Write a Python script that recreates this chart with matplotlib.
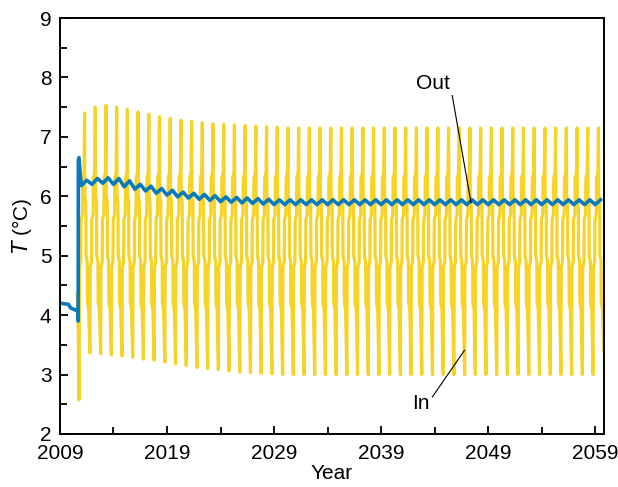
import matplotlib.pyplot as plt
import numpy as np

plt.rcParams['font.family'] = ['Liberation Sans', 'DejaVu Sans']

# years with an annual peak of the inflow temperature
years = list(range(2011, 2060))

# In: annual maxima / minima
in_peak = [7.40, 7.50, 7.53, 7.50, 7.46, 7.42, 7.38, 7.34, 7.31, 7.28,
           7.26, 7.24, 7.22, 7.21, 7.20, 7.19, 7.18, 7.17, 7.16, 7.15,
           7.15, 7.15, 7.15, 7.15, 7.15, 7.15, 7.15, 7.15, 7.15, 7.15,
           7.15, 7.15, 7.15, 7.15, 7.15, 7.15, 7.15, 7.15, 7.15, 7.15,
           7.15, 7.15, 7.15, 7.15, 7.15, 7.15, 7.15, 7.15, 7.15]
in_trough = [3.36, 3.35, 3.33, 3.31, 3.29, 3.26, 3.24, 3.21, 3.18, 3.15,
             3.12, 3.10, 3.08, 3.06, 3.04, 3.03, 3.02, 3.01, 3.00, 3.00,
             3.00, 3.00, 3.00, 3.00, 3.00, 3.00, 3.00, 3.00, 3.00, 3.00,
             3.00, 3.00, 3.00, 3.00, 3.00, 3.00, 3.00, 3.00, 3.00, 3.00,
             3.00, 3.00, 3.00, 3.00, 3.00, 3.00, 3.00, 3.00, 3.40]
# staircase plateaus within each cycle (rise side, fall side)
in_rise_steps = [4.8, 4.9, 5.6, 5.7, 6.3, 6.4]
in_fall_steps = [6.0, 5.9, 5.0, 4.9, 4.2, 4.1]
# start-up of the inflow record
in_start_t = [2010.62, 2010.70, 2010.78]
in_start_v = [4.35, 3.90, 2.57]

# Out: annual high / low of the outflow temperature
out_hi = [6.27, 6.30, 6.31, 6.30, 6.26, 6.20, 6.17, 6.13, 6.10, 6.07,
          6.05, 6.03, 6.01, 5.99, 5.98, 5.97, 5.96, 5.95, 5.94, 5.94,
          5.94, 5.94, 5.94, 5.94, 5.94, 5.94, 5.94, 5.94, 5.94, 5.94,
          5.94, 5.94, 5.94, 5.94, 5.94, 5.94, 5.94, 5.94, 5.94, 5.94,
          5.94, 5.94, 5.94, 5.94, 5.94, 5.94, 5.94, 5.94, 5.94]
out_lo = [6.18, 6.20, 6.22, 6.20, 6.16, 6.12, 6.09, 6.05, 6.02, 5.99,
          5.97, 5.95, 5.93, 5.91, 5.90, 5.89, 5.88, 5.87, 5.86, 5.86,
          5.86, 5.86, 5.86, 5.86, 5.86, 5.86, 5.86, 5.86, 5.86, 5.86,
          5.86, 5.86, 5.86, 5.86, 5.86, 5.86, 5.86, 5.86, 5.86, 5.86,
          5.86, 5.86, 5.86, 5.86, 5.86, 5.86, 5.86, 5.86, 5.86]
out_start_t = [2009.05, 2009.80, 2010.00, 2010.50, 2010.64, 2010.70, 2010.72, 2010.78, 2010.90]
out_start_v = [4.20, 4.18, 4.12, 4.08, 4.10, 3.90, 6.60, 6.65, 6.35]

# build the In series (sample times within a cycle, relative to the trough)
t_in = list(in_start_t)
v_in = list(in_start_v)
rise_dt = [0.03, 0.15, 0.17, 0.30, 0.32, 0.45]
fall_dt = [0.53, 0.62, 0.64, 0.75, 0.77, 0.88]
for y, pk, tr in zip(years, in_peak, in_trough):
    y0 = y - 0.2
    for dt, v in zip(rise_dt, in_rise_steps):
        t_in.append(y0 + dt)
        v_in.append(v)
    t_in.append(y0 + 0.5)
    v_in.append(pk)
    for dt, v in zip(fall_dt, in_fall_steps):
        t_in.append(y0 + dt)
        v_in.append(v)
    t_in.append(y0 + 1.0)
    v_in.append(tr)

# build the Out series
t_out = list(out_start_t)
v_out = list(out_start_v)
for y, hi, lo in zip(years, out_hi, out_lo):
    t_out += [y, y + 0.5]
    v_out += [lo, hi]

fig = plt.figure(figsize=(6.18, 4.87), dpi=100)
ax = fig.add_axes([0.097, 0.109, 0.88, 0.854])

ax.plot(t_in, v_in, color='#F5D327', lw=2.3)
ax.plot(t_out, v_out, color='#0A7BBA', lw=2.6)

ax.set_xlim(2009, 2059.8)
ax.set_ylim(2, 9)
ax.set_xticks(range(2009, 2060, 10))
ax.set_xticks(range(2014, 2060, 10), minor=True)
ax.set_yticks(range(2, 10))
ax.set_yticks(np.arange(2.5, 9, 1.0), minor=True)
ax.tick_params(which='both', direction='in', labelsize=15, width=1.3)
ax.tick_params(which='major', length=6)
ax.tick_params(axis='x', which='major', pad=7)
ax.tick_params(axis='y', which='major', pad=6)
ax.tick_params(which='minor', length=5)
for s in ax.spines.values():
    s.set_linewidth(1.4)

ax.set_xlabel('Year', fontsize=15, labelpad=1)
ax.set_ylabel('$\\mathit{T}$ (°C)', fontsize=15, labelpad=4)

ax.annotate('Out', xy=(2047.4, 5.89), xytext=(2043.8, 7.9), fontsize=15,
            ha='center', va='center',
            arrowprops=dict(arrowstyle='-', lw=0.8, color='black', shrinkA=0, shrinkB=0,
                            relpos=(1.0, 0.7)))
ax.annotate('In', xy=(2046.8, 3.41), xytext=(2042.7, 2.52), fontsize=15,
            ha='center', va='center',
            arrowprops=dict(arrowstyle='-', lw=0.8, color='black', shrinkA=0, shrinkB=0,
                            relpos=(1.0, 0.6)))

fig.savefig('out.png', dpi=100)
